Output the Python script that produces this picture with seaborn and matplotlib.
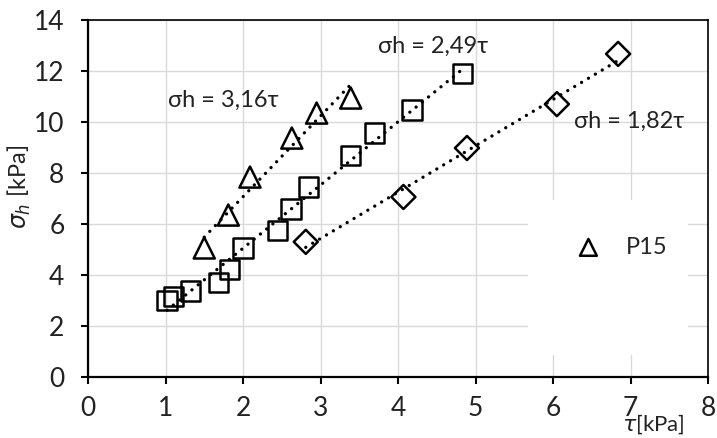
import numpy as np
import pandas as pd
import matplotlib
matplotlib.use("Agg")
import matplotlib.pyplot as plt
from matplotlib.patches import Rectangle
import seaborn as sns

# ---- data ----
tri_x = [1.50, 1.81, 2.09, 2.63, 2.95, 3.39]
tri_y = [5.06, 6.35, 7.84, 9.37, 10.35, 10.94]

sq_x = [1.02, 1.10, 1.32, 1.68, 1.83, 2.00, 2.44, 2.62, 2.85, 3.39, 3.70, 4.18, 4.83]
sq_y = [3.00, 3.15, 3.37, 3.70, 4.20, 5.06, 5.76, 6.59, 7.45, 8.67, 9.57, 10.47, 11.90]

dia_x = [2.81, 4.07, 4.89, 6.05, 6.84]
dia_y = [5.30, 7.06, 8.98, 10.70, 12.67]

eq_labels = ["σh = 3,16τ", "σh = 2,49τ", "σh = 1,82τ"]
eq_pos_x = [1.75, 4.45, 6.98]
eq_pos_y = [10.86, 12.98, 10.04]

legend_label = "P15"
x_ticks = list(range(0, 9))
y_ticks = list(range(0, 15, 2))

sns.set_style("ticks")
plt.rcParams['font.family'] = ['Lato', 'Open Sans', 'DejaVu Sans']
plt.rcParams['mathtext.fontset'] = 'dejavusans'

fig = plt.figure(figsize=(7.17, 4.38), dpi=100)
ax = fig.add_axes([88/717, 1-377/438, 620/717, 357/438])

df_tri = pd.DataFrame({"x": tri_x, "y": tri_y})
df_sq = pd.DataFrame({"x": sq_x, "y": sq_y})
df_dia = pd.DataFrame({"x": dia_x, "y": dia_y})

line_kws = dict(color="black", linestyle=(0, (0.01, 2.4)), linewidth=2.4,
                dash_capstyle="round", zorder=3)
for d in (df_tri, df_sq, df_dia):
    sns.regplot(data=d, x="x", y="y", scatter=False, ci=None, truncate=True,
                line_kws=line_kws, ax=ax)

sns.scatterplot(data=df_tri, x="x", y="y", marker="^", s=230, facecolor="none",
                edgecolor="black", linewidth=1.8, ax=ax, zorder=4, label=legend_label)
sns.scatterplot(data=df_sq, x="x", y="y", marker="s", s=190, facecolor="none",
                edgecolor="black", linewidth=1.8, ax=ax, zorder=4, legend=False)
sns.scatterplot(data=df_dia, x="x", y="y", marker="D", s=150, facecolor="none",
                edgecolor="black", linewidth=1.8, ax=ax, zorder=4, legend=False)

for lab, ex, ey in zip(eq_labels, eq_pos_x, eq_pos_y):
    ax.text(ex, ey, lab, fontsize=17, ha="center", va="center", color="#222222", zorder=5)

ax.set_xlim(0, 8)
ax.set_ylim(0, 14)
ax.set_xticks(x_ticks)
ax.set_yticks(y_ticks)
ax.grid(True, color="#d9d9d9", linewidth=1.0)
ax.set_axisbelow(True)

# white legend area covering gridlines
ax.add_patch(Rectangle((0.71, 0.062), 0.258, 0.434, transform=ax.transAxes,
                       facecolor="white", edgecolor="none", zorder=1))

leg = ax.legend(loc="center left", bbox_to_anchor=(0.75, 0.364), frameon=False,
                fontsize=17, handletextpad=0.6, borderpad=0, markerscale=0.8)

for side in ["left", "bottom", "top", "right"]:
    ax.spines[side].set_visible(True)
    ax.spines[side].set_color("black")
ax.spines["left"].set_linewidth(1.6)
ax.spines["bottom"].set_linewidth(1.6)
ax.spines["top"].set_linewidth(1.2)
ax.spines["right"].set_linewidth(1.2)
ax.tick_params(axis="both", direction="out", length=5, width=1.5, color="black",
               labelsize=19, labelcolor="#222222")
ax.tick_params(axis="x", pad=9)
ax.tick_params(axis="y", pad=12)

ax.set_xlabel(r"$\tau$[kPa]", fontsize=16, color="#222222")
ax.xaxis.label.set_va("center")
ax.xaxis.set_label_coords(0.912, -0.132)
ax.set_ylabel(r"$\sigma_h$ [kPa]", fontsize=17, color="#222222")
ax.yaxis.label.set_va("center")
ax.yaxis.set_label_coords(-0.11, 0.532)

fig.savefig("out.png", dpi=100)
